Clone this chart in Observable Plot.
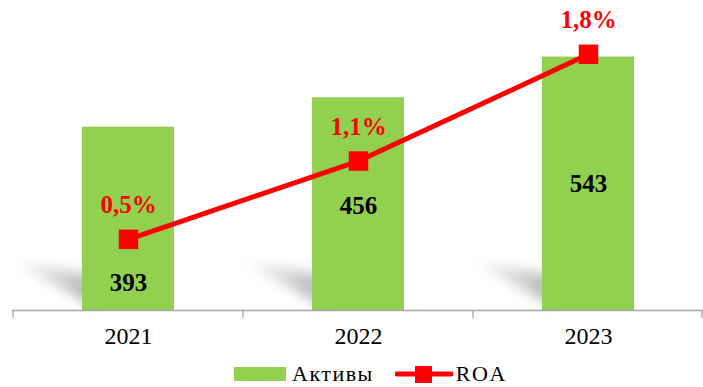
<!DOCTYPE html>
<html><head><meta charset="utf-8">
<script src="https://cdn.jsdelivr.net/npm/d3@7"></script>
<script src="https://cdn.jsdelivr.net/npm/@observablehq/plot@0.6"></script>
<style>
body{margin:0;background:#fff;font-family:'Liberation Serif','Times New Roman',Times,serif;}
#legend{display:flex;justify-content:flex-start;align-items:center;height:27px;padding-left:234px;font-size:22px;letter-spacing:1.5px;color:#000;font-family:'Liberation Serif','Times New Roman',Times,serif;}
#legend .item{display:flex;align-items:center;}
#chart svg text{font-family:'Liberation Serif','Times New Roman',Times,serif !important;}
</style></head>
<body>
<div id="chart"></div>
<div id="legend">
  <span class="item"><span style="display:inline-block;width:52px;height:14px;background:#92D050;margin-right:6px"></span>Активы</span>
  <span class="item" style="margin-left:21px"><svg width="58" height="20" style="margin-right:3px"><line x1="2" y1="10" x2="56" y2="10" stroke="#FF0000" stroke-width="5" stroke-linecap="round"/><rect x="20" y="2" width="17" height="17" fill="#FF0000"/></svg>ROA</span>
</div>
<script>
const years = ["2021", "2022", "2023"];
const assets = [393, 456, 543];
const roa = [0.5, 1.05, 1.8];
const roaLabels = ["0,5%", "1,1%", "1,8%"];
const assetLabelLevel = [0.15, 0.49, 0.5];
const roaToAssets = 305;

const data = years.map((y, i) => ({year: y, assets: assets[i], roa: roa[i], roaLabel: roaLabels[i], lvl: assetLabelLevel[i]}));

const plot = Plot.plot({
  width: 703,
  height: 360,
  marginLeft: 12,
  marginRight: 0,
  marginTop: 30,
  marginBottom: 50,
  style: {fontFamily: "'Liberation Serif', 'Times New Roman', Times, serif", background: "#fff"},
  x: {domain: years, paddingInner: 0.6, paddingOuter: 0.3, label: null},
  y: {domain: [0, 600], axis: null},
  marks: [
    Plot.barY(data, {x: "year", y: "assets", fill: "#92D050", className: "bars"}),
    Plot.ruleY([0], {stroke: "#A6A6A6", strokeWidth: 1.3}),
    Plot.axisX({tickSize: 0, tickPadding: 16, fontSize: 24, fill: "#000", label: null}),
    Plot.text(data, {x: "year", y: d => d.assets * d.lvl, text: d => String(d.assets), fontSize: 25, fontWeight: "bold", fill: "#000"}),
    Plot.line(data, {x: "year", y: d => d.roa * roaToAssets, stroke: "#FF0000", strokeWidth: 5}),
    Plot.dot(data, {x: "year", y: d => d.roa * roaToAssets, symbol: "square", r: 11, fill: "#FF0000"}),
    Plot.text(data, {x: "year", y: d => d.roa * roaToAssets, dy: -34, text: "roaLabel", fontSize: 25, fontWeight: "bold", fill: "#FF0000"})
  ]
});
document.getElementById("chart").appendChild(plot);

// category boundary ticks and shadows, positioned through the plot's scales
const xs = plot.scale("x"), ys = plot.scale("y");
const step = xs.step !== undefined ? xs.step : (xs.apply(years[1]) - xs.apply(years[0]));
const bw = xs.bandwidth;
const yb = ys.apply(0);
const svg = d3.select(plot);
const defs = svg.insert("defs", ":first-child");
defs.append("filter").attr("id", "blur").attr("x", "-50%").attr("y", "-50%").attr("width", "200%").attr("height", "200%")
  .append("feGaussianBlur").attr("stdDeviation", 6);
const grad = defs.append("linearGradient").attr("id", "shgrad").attr("x1", "0").attr("x2", "1").attr("y1", "0").attr("y2", "0");
grad.append("stop").attr("offset", "0").attr("stop-color", "#a0a0a0").attr("stop-opacity", 0.05);
grad.append("stop").attr("offset", "1").attr("stop-color", "#808080").attr("stop-opacity", 0.6);
const bars = svg.select("g.bars").node() || svg.select("g[aria-label='bar']").node();
const sh = svg.insert("g", () => bars).attr("filter", "url(#blur)");
years.forEach(y => {
  const x0 = xs.apply(y);
  const pts = [[x0 - 68, yb - 50], [x0 + 10, yb - 35], [x0 + 10, yb - 4], [x0 - 45, yb - 34]];
  sh.append("polygon").attr("points", pts.map(p => p.join(",")).join(" ")).attr("fill", "url(#shgrad)");
});
const tg = svg.append("g").attr("stroke", "#A6A6A6").attr("stroke-width", 1.3);
const bounds = years.map(y => xs.apply(y) + bw / 2 - step / 2);
bounds.push(xs.apply(years[years.length - 1]) + bw / 2 + step / 2 - 1);
bounds.forEach(b => tg.append("line").attr("x1", b).attr("x2", b).attr("y1", yb).attr("y2", yb + 8));
</script>
</body></html>
